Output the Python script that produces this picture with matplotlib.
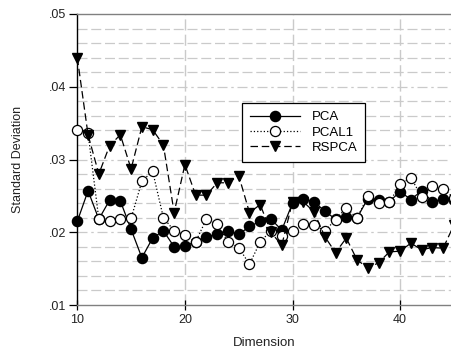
import matplotlib
matplotlib.use("Agg")
import matplotlib.pyplot as plt
from matplotlib.ticker import MultipleLocator, FuncFormatter

plt.rcParams["font.family"] = ["Liberation Sans", "DejaVu Sans"]

dims = list(range(10, 46))

pca = [0.0215, 0.0257, 0.0218, 0.0244, 0.0243, 0.0204, 0.0165, 0.0192, 0.0202, 0.0180,
       0.0181, 0.0187, 0.0193, 0.0198, 0.0202, 0.0197, 0.0208, 0.0215, 0.0218, 0.0203,
       0.0240, 0.0246, 0.0242, 0.0229, 0.0218, 0.0221, 0.0220, 0.0246, 0.0245, 0.0242,
       0.0256, 0.0245, 0.0257, 0.0242, 0.0246, 0.0245]

pcal1 = [0.0341, 0.0336, 0.0218, 0.0215, 0.0218, 0.0219, 0.0270, 0.0284, 0.0220, 0.0202,
         0.0196, 0.0187, 0.0218, 0.0211, 0.0187, 0.0179, 0.0156, 0.0187, 0.0202, 0.0195,
         0.0202, 0.0212, 0.0210, 0.0202, 0.0217, 0.0234, 0.0219, 0.0250, 0.0240, 0.0241,
         0.0266, 0.0275, 0.0249, 0.0264, 0.0260, 0.0247]

rspca = [0.0440, 0.0334, 0.0280, 0.0319, 0.0334, 0.0287, 0.0345, 0.0341, 0.0320, 0.0227,
         0.0293, 0.0251, 0.0251, 0.0268, 0.0268, 0.0278, 0.0227, 0.0238, 0.0200, 0.0182,
         0.0242, 0.0242, 0.0228, 0.0194, 0.0172, 0.0192, 0.0162, 0.0151, 0.0158, 0.0173,
         0.0174, 0.0185, 0.0176, 0.0179, 0.0178, 0.0210]

fig = plt.figure(figsize=(4.51, 3.56), dpi=100)
ax = fig.add_axes([77.3 / 451, 1 - 305 / 356, 1 - 77.3 / 451, (305 - 14) / 356])

ax.set_xlim(10, 10 + (451 - 77.3) / 10.76)
ax.set_ylim(0.01, 0.05)

# grid: fine dashed lines every .002, dash-dot at each .01, dashed verticals
grid_col = "#cacaca"
for v in [0.01 + 0.002 * i for i in range(1, 20)]:
    if abs(v * 100 - round(v * 100)) < 1e-6:
        ax.axhline(v, color=grid_col, lw=0.9, ls=(0, (8, 3, 2, 3)), zorder=0)
    else:
        ax.axhline(v, color=grid_col, lw=0.9, ls=(0, (8, 3)), zorder=0)
for v in [20, 30, 40]:
    ax.axvline(v, color=grid_col, lw=1.0, ls=(0, (8, 3)), zorder=0)

lw = 0.9
ms = 7.3
ax.plot(dims, pca, color="black", ls="-", lw=lw, marker="o", ms=ms,
        mfc="black", mec="black", label="PCA", clip_on=False, zorder=3)
ax.plot(dims, pcal1, color="black", ls=":", lw=lw, marker="o", ms=ms,
        mfc="white", mec="black", mew=0.9, label="PCAL1", clip_on=False, zorder=4)
ax.plot(dims, rspca, color="black", ls=(0, (6, 3)), lw=lw, marker="v", ms=ms,
        mfc="black", mec="black", label="RSPCA", clip_on=False, zorder=5)

ax.yaxis.set_major_locator(MultipleLocator(0.01))
ax.xaxis.set_major_locator(MultipleLocator(10))
ax.yaxis.set_major_formatter(FuncFormatter(lambda v, p: ("%.2f" % v).lstrip("0")))

for s in ["top", "bottom"]:
    ax.spines[s].set_color("#808080")
    ax.spines[s].set_linewidth(1.0)
ax.spines["right"].set_visible(False)
ax.spines["left"].set_color("black")
ax.spines["left"].set_linewidth(1.0)

ax.tick_params(axis="y", direction="out", length=6, width=0.9, labelsize=9, pad=2,
               labelcolor="#222222")
ax.tick_params(axis="x", direction="inout", length=7, width=0.9, labelsize=9, pad=3,
               labelcolor="#222222")

ax.set_xlabel("Dimension", fontsize=9.5, labelpad=8, color="#222222")
ax.set_ylabel("Standard Deviation", fontsize=9, labelpad=18, color="#222222")

leg = ax.legend(loc="upper left",
                bbox_to_anchor=((241.7 - 77.3) / (451 - 77.3), 1 - (103.3 - 14) / 291),
                borderaxespad=0, fontsize=9.5, frameon=True, fancybox=False,
                edgecolor="black", framealpha=1.0, handlelength=3.8, borderpad=0.6,
                labelspacing=0.22, handletextpad=0.9)
leg.get_frame().set_linewidth(0.9)
leg.set_zorder(10)

fig.savefig("out.png", dpi=100)
